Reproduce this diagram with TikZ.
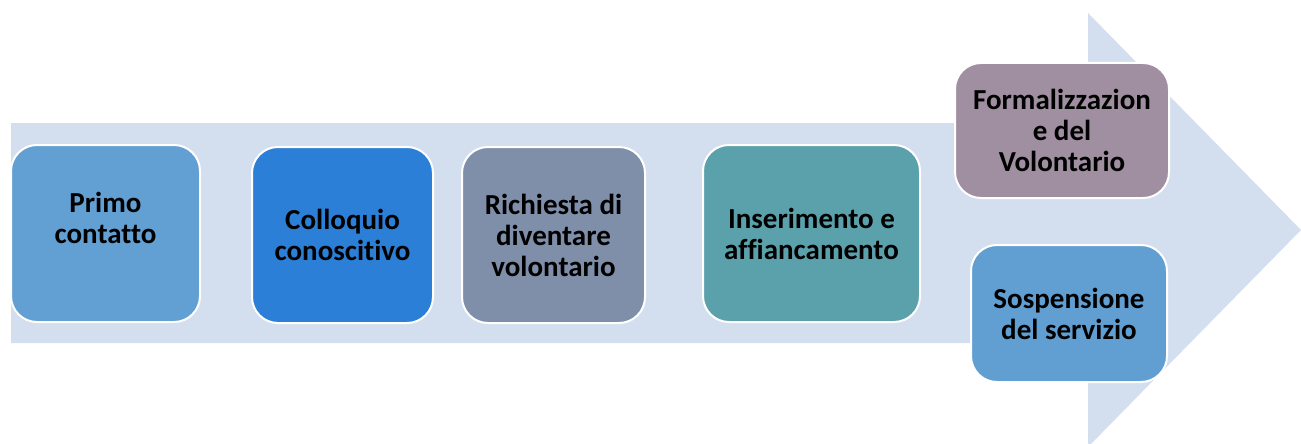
\documentclass[tikz,border=0pt]{standalone}
\usepackage{fontspec}
\setmainfont{Carlito}[Ligatures=NoCommon]
\usepackage{tikz}

\definecolor{arrowbg}{HTML}{D3DFEE}
\definecolor{cPrimo}{HTML}{629FD2}
\definecolor{cColloquio}{HTML}{2B7FD6}
\definecolor{cRichiesta}{HTML}{7F8FAA}
\definecolor{cInserimento}{HTML}{5BA1AC}
\definecolor{cFormal}{HTML}{9F8FA0}
\definecolor{cSosp}{HTML}{619FD2}

\tikzset{
  stepbox/.style={draw=white, line width=2pt, rounded corners=26pt,
    align=center, inner sep=0pt,
    font=\fontsize{29}{31}\selectfont\bfseries}
}

\begin{document}
\begin{tikzpicture}[x=1pt,y=-1pt]
\useasboundingbox (0,0) rectangle (1301,444);
\fill[arrowbg] (11,123) -- (1088,123) -- (1088,13) -- (1301,230)
  -- (1088,447) -- (1088,343) -- (11,343) -- cycle;

\node[stepbox,fill=cPrimo,minimum width=189pt,minimum height=177pt] (primo) at (105.5,233.5) {Primo\\contatto\\\mbox{}};
\node[stepbox,fill=cColloquio,minimum width=181pt,minimum height=176pt] (colloquio) at (342.5,235) {Colloquio\\conoscitivo};
\node[stepbox,fill=cRichiesta,minimum width=183pt,minimum height=176pt] (richiesta) at (553.5,235) {Richiesta di\\diventare\\volontario};
\node[stepbox,fill=cInserimento,minimum width=217pt,minimum height=177pt] (inserimento) at (811.5,233.5) {Inserimento e\\affiancamento};

\node[stepbox,fill=cFormal,minimum width=214pt,minimum height=135pt] (formal) at (1062,130.5) {Formalizzazion\\e del\\Volontario};
\node[stepbox,fill=cSosp,minimum width=196pt,minimum height=137pt] (sosp) at (1069,313.5) {Sospensione\\del servizio};

\end{tikzpicture}
\end{document}
